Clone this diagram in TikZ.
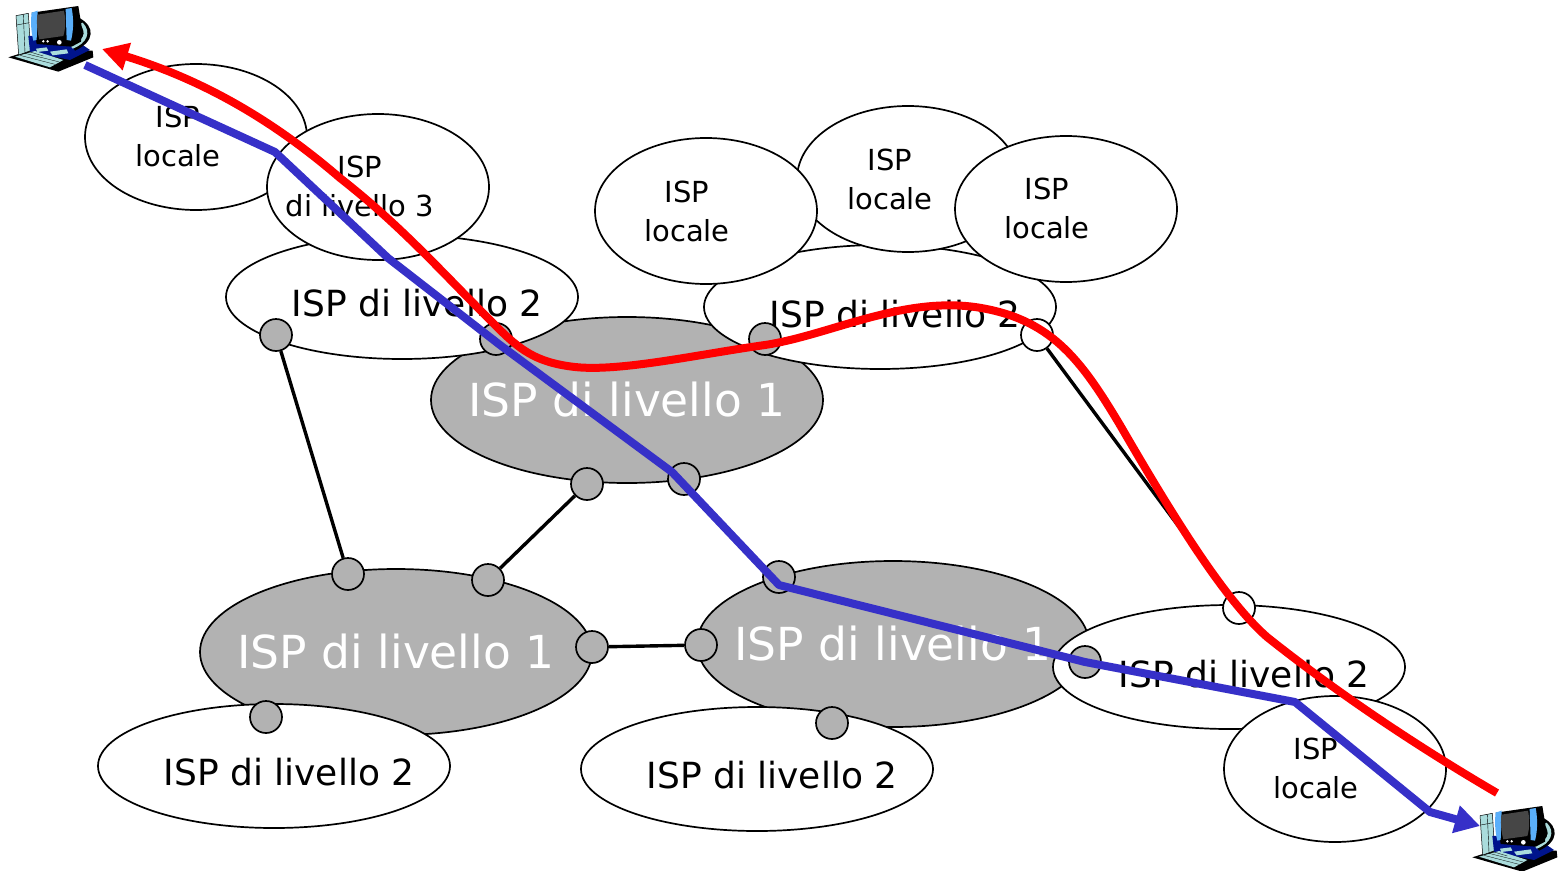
\documentclass[tikz,border=0pt]{standalone}
\usepackage{fontspec}
\setmainfont{DejaVu Sans}
\usetikzlibrary{shapes.geometric,arrows.meta}
\tikzset{
  cloud base/.style={ellipse,draw=black,line width=1.7pt,inner sep=0pt,outer sep=0pt},
  isplocal/.style={cloud base,fill=white,minimum width=222pt,minimum height=146pt},
  ispmid/.style={cloud base,fill=white,minimum width=352pt,minimum height=124pt},
  ispone/.style={cloud base,fill=isp gray,minimum width=392pt,minimum height=166pt},
  router/.style={circle,draw=black,line width=1.7pt,fill=isp gray,minimum size=32pt,inner sep=0pt},
  router open/.style={router,fill=white},
  link/.style={draw=black,line width=3.4pt},
  txtsmall/.style={font=\fontsize{29}{39}\selectfont,align=center,inner sep=0pt},
  txtmid/.style={font=\fontsize{36}{42}\selectfont,inner sep=0pt},
  txtbig/.style={font=\fontsize{45.5}{50}\selectfont,text=white,inner sep=0pt},
  bluepath/.style={draw=routeblue,line width=8pt,line join=round,-{Triangle[length=25pt,width=27pt]}},
  redpath/.style={draw=routered,line width=8pt,line join=round,-{Triangle[length=26pt,width=27pt]}},
  pc part/.style={draw=black,line width=.5pt,line join=round},
  pics/computer/.style={code={
    \begin{scope}[x=.3333pt,y=-.3333pt]
      \fill[black] (25,172)--(100,148)--(278,152)--(280,172)--(175,215)--cycle;
      \fill[pc part,fill=towerteal] (48,47)--(85,40)--(92,152)--(56,165)--cycle;
      \draw[black,line width=.4pt] (70,44)--(75,158) (50,75)--(88,68);
      \fill[navy] (85,108)--(205,105)--(270,150)--(210,180)--(90,155)--cycle;
      \fill[towerteal] (45,170)--(105,153)--(190,180)--(150,202)--cycle;
      \draw[black,line width=.3pt] (60,166)--(165,193) (75,160)--(178,186) (90,156)--(130,168);
      \fill[towerteal] (108,146)--(140,142)--(145,152)--(112,156)--cycle;
      \fill[towerteal] (150,155)--(200,148)--(205,160)--(158,166)--cycle;
      \fill[black] (200,110) -- (240,55) .. controls (285,80) and (285,125) .. (225,152) -- cycle;
      \fill[towerteal] (210,135) .. controls (250,125) and (262,100) .. (240,72) -- (248,68) .. controls (275,95) and (262,130) .. (218,146)--cycle;
      \fill[black] (95,38)--(235,18)--(245,80)--(243,125)--(215,140)--(110,132)--cycle;
      \fill[sideblue] (95,38)--(113,32)--(110,120)--(100,122) .. controls (92,90) and (92,60) .. (95,38)--cycle;
      \fill[sideblue] (197,27)--(215,24) .. controls (222,60) and (220,95) .. (213,122)--(200,120)--cycle;
      \fill[screengray] (112,44)--(192,32) .. controls (198,60) and (196,90) .. (190,108)--(118,118) .. controls (110,90) and (110,65) .. (112,44)--cycle;
      \fill[white] (130,124) circle (4) (143,124) circle (4) (178,127) circle (7);
    \end{scope}
  }}
}
\definecolor{isp gray}{RGB}{178,178,178}
\definecolor{routeblue}{RGB}{54,48,200}
\definecolor{routered}{RGB}{255,0,0}
\definecolor{towerteal}{RGB}{170,220,220}
\definecolor{navy}{RGB}{0,20,140}
\definecolor{sideblue}{RGB}{90,175,250}
\definecolor{screengray}{RGB}{70,70,70}
\begin{document}
\begin{tikzpicture}[x=1pt,y=-1pt]
\useasboundingbox (0,0) rectangle (1562,870);
\pic (pcA) at (0,0) {computer};
\pic (pcB) at (1464,800) {computer};
\node[ispone] (oneTop) at (627,400) {};
\node[ispone] (oneLeft) at (396,652) {};
\node[ispone] (oneRight) at (893,644) {};
\node[txtbig] (oneTopT) at (627,400) {ISP di livello 1};
\node[txtbig] (oneLeftT) at (396,652) {ISP di livello 1};
\node[txtbig] (oneRightT) at (893,644) {ISP di livello 1};
\node[ispmid] (twoA) at (402,297) {};
\node[ispmid] (twoB) at (880,307) {};
\node[ispmid] (twoC) at (274,766) {};
\node[ispmid] (twoD) at (757,769) {};
\node[ispmid] (twoE) at (1229,667) {};
\node[txtmid] (twoAT) at (417,303) {ISP di livello 2};
\node[txtmid] (twoBT) at (895,314) {ISP di livello 2};
\node[txtmid] (twoCT) at (289,772) {ISP di livello 2};
\node[txtmid] (twoDT) at (772,775) {ISP di livello 2};
\node[txtmid] (twoET) at (1244,674) {ISP di livello 2};
\node[isplocal] (locA) at (196,137) {};
\node[isplocal] (three) at (378,187) {};
\node[isplocal] (locB) at (908,179) {};
\node[isplocal] (locC) at (706,211) {};
\node[isplocal] (locD) at (1066,209) {};
\node[isplocal] (locE) at (1335,769) {};
\node[txtsmall] (locAT) at (178,136) {ISP\\locale};
\node[txtsmall] (threeT) at (360,186) {ISP\\di livello 3};
\node[txtsmall] (locBT) at (890,179) {ISP\\locale};
\node[txtsmall] (locCT) at (687,211) {ISP\\locale};
\node[txtsmall] (locDT) at (1047,208) {ISP\\locale};
\node[txtsmall] (locET) at (1316,768) {ISP\\locale};
\node[router] (r1) at (276,335) {};
\node[router] (r2) at (496,339) {};
\node[router] (r3) at (765,339) {};
\node[router open] (r4) at (1037,335) {};
\node[router] (r5) at (587,484) {};
\node[router] (r6) at (684,479) {};
\node[router] (r7) at (348,574) {};
\node[router] (r8) at (488,580) {};
\node[router] (r9) at (592,647) {};
\node[router] (r10) at (701,645) {};
\node[router] (r11) at (779,577) {};
\node[router] (r12) at (1085,662) {};
\node[router open] (r13) at (1239,608) {};
\node[router] (r14) at (266,717) {};
\node[router] (r15) at (832,723) {};
\draw[link] (r1) -- (r7);
\draw[link] (r5) -- (r8);
\draw[link] (r9) -- (r10);
\draw[link] (r4) -- (r13);
\coordinate (blueStart) at (85,65);
\coordinate (blueEnd) at (1480,826);
\coordinate (redStart) at (1497,793);
\coordinate (redEnd) at (102,49);
\draw[bluepath] (blueStart) -- (275,152) -- (388,258) -- (500,345) -- (672,472) -- (779,585) -- (1085,662) -- (1295,702) -- (1430,812) -- (blueEnd);
\draw[redpath] (redStart) .. controls (1420,748) and (1340,695) .. (1267,637)
  .. controls (1225,600) and (1175,520) .. (1120,425)
  .. controls (1080,358) and (1050,318) .. (975,307)
  .. controls (900,297) and (830,335) .. (765,345)
  .. controls (700,354) and (620,372) .. (575,367)
  .. controls (530,362) and (515,345) .. (487,317)
  .. controls (440,270) and (400,225) .. (340,178)
  .. controls (290,135) and (220,85) .. (redEnd);
\end{tikzpicture}
\end{document}
